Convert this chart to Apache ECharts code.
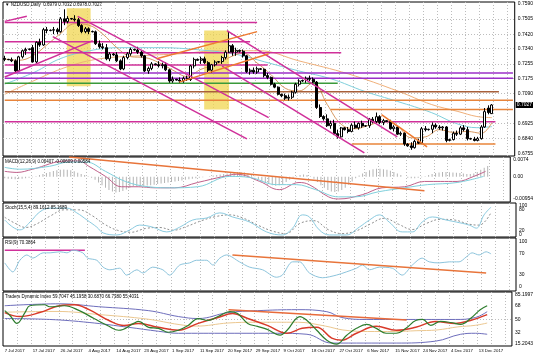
<!DOCTYPE html>
<html><head><meta charset="utf-8">
<script src="https://cdn.jsdelivr.net/npm/echarts@6/dist/echarts.min.js"></script>
<style>html,body{margin:0;padding:0;background:#fff}#c{width:536px;height:358px}</style>
</head><body><div id="c"></div>
<script>
// ---------- DATA ----------
const dateLabels = ['7 Jul 2017','17 Jul 2017','26 Jul 2017','4 Aug 2017','14 Aug 2017','23 Aug 2017','1 Sep 2017','11 Sep 2017','20 Sep 2017','29 Sep 2017','9 Oct 2017','18 Oct 2017','27 Oct 2017','6 Nov 2017','15 Nov 2017','24 Nov 2017','4 Dec 2017','13 Dec 2017'];
// [open, high, low, close]
const ohlc = [
[.7285,.7300,.7270,.7280],[.7280,.7283,.7276,.7278],[.7278,.7290,.7265,.7272],[.7272,.7280,.7205,.7216],[.7216,.7300,.7210,.7294],
[.7294,.7335,.7285,.7328],[.7328,.7345,.7305,.7335],[.7335,.7340,.7330,.7338],[.7345,.7360,.7262,.7266],[.7266,.7380,.7260,.7375],
[.7375,.7395,.7350,.7360],[.7360,.7455,.7355,.7445],[.7445,.7460,.7425,.7440],[.7440,.7446,.7436,.7442],[.7442,.7460,.7420,.7445],
[.7445,.7455,.7420,.7434],[.7434,.7515,.7428,.7505],[.7505,.7558,.7470,.7490],[.7490,.7520,.7480,.7507],[.7507,.7510,.7500,.7504],
[.7504,.7525,.7490,.7500],[.7500,.7510,.7460,.7468],[.7468,.7475,.7425,.7434],[.7434,.7460,.7425,.7450],[.7450,.7458,.7420,.7435],
[.7435,.7440,.7430,.7433],[.7433,.7440,.7360,.7367],[.7367,.7385,.7340,.7350],[.7350,.7370,.7335,.7345],[.7345,.7365,.7275,.7283],
[.7283,.7320,.7270,.7310],[.7310,.7315,.7300,.7305],[.7305,.7320,.7265,.7272],[.7272,.7280,.7220,.7227],[.7227,.7300,.7220,.7290],
[.7290,.7320,.7280,.7311],[.7311,.7345,.7300,.7335],[.7335,.7340,.7328,.7332],[.7332,.7350,.7310,.7320],[.7320,.7330,.7290,.7300],
[.7300,.7305,.7210,.7216],[.7216,.7240,.7200,.7230],[.7230,.7265,.7220,.7255],[.7255,.7258,.7248,.7250],[.7250,.7270,.7235,.7245],
[.7245,.7262,.7230,.7250],[.7250,.7265,.7215,.7222],[.7222,.7228,.7150,.7160],[.7160,.7185,.7150,.7170],[.7170,.7172,.7162,.7165],
[.7165,.7180,.7150,.7160],[.7160,.7185,.7150,.7175],[.7175,.7190,.7160,.7168],[.7168,.7250,.7160,.7244],[.7244,.7290,.7230,.7280],
[.7280,.7285,.7272,.7275],[.7275,.7295,.7255,.7283],[.7283,.7295,.7255,.7262],[.7262,.7270,.7210,.7220],[.7220,.7255,.7205,.7250],
[.7250,.7275,.7240,.7265],[.7265,.7270,.7260,.7268],[.7268,.7300,.7255,.7290],[.7290,.7330,.7280,.7320],[.7320,.7435,.7315,.7356],
[.7356,.7365,.7300,.7320],[.7320,.7345,.7300,.7330],[.7330,.7335,.7318,.7325],[.7325,.7335,.7290,.7300],[.7300,.7305,.7205,.7212],
[.7212,.7230,.7195,.7220],[.7220,.7235,.7200,.7210],[.7210,.7240,.7200,.7228],[.7228,.7232,.7222,.7225],[.7225,.7230,.7180,.7190],
[.7190,.7205,.7170,.7180],[.7180,.7185,.7135,.7142],[.7142,.7150,.7120,.7126],[.7126,.7130,.7080,.7086],[.7086,.7090,.7070,.7078],
[.7078,.7090,.7055,.7065],[.7065,.7085,.7052,.7070],[.7070,.7105,.7060,.7098],[.7098,.7150,.7090,.7142],[.7142,.7170,.7130,.7160],
[.7160,.7168,.7155,.7163],[.7163,.7185,.7150,.7175],[.7175,.7190,.7160,.7170],[.7170,.7180,.7140,.7154],[.7154,.7160,.7005,.7013],
[.7013,.7030,.6955,.6963],[.6963,.6970,.6940,.6950],[.6950,.6975,.6905,.6912],[.6912,.6940,.6895,.6925],[.6925,.6945,.6860,.6868],
[.6868,.6890,.6840,.6850],[.6850,.6905,.6845,.6900],[.6900,.6905,.6885,.6890],[.6890,.6905,.6870,.6880],[.6880,.6925,.6875,.6915],
[.6915,.6935,.6895,.6900],[.6900,.6930,.6890,.6925],[.6925,.6940,.6900,.6910],[.6910,.6915,.6905,.6912],[.6912,.6955,.6900,.6948],
[.6948,.6960,.6925,.6935],[.6935,.6985,.6925,.6962],[.6962,.6970,.6920,.6930],[.6930,.6950,.6915,.6940],[.6940,.6942,.6932,.6935],
[.6935,.6945,.6890,.6895],[.6895,.6915,.6880,.6905],[.6905,.6910,.6860,.6865],[.6865,.6880,.6855,.6870],[.6870,.6875,.6800,.6810],
[.6810,.6815,.6795,.6800],[.6800,.6820,.6778,.6790],[.6790,.6835,.6785,.6825],[.6825,.6840,.6810,.6815],[.6815,.6905,.6810,.6895],
[.6895,.6910,.6880,.6890],[.6890,.6895,.6885,.6892],[.6892,.6930,.6870,.6915],[.6915,.6925,.6895,.6905],[.6905,.6915,.6890,.6900],
[.6900,.6910,.6885,.6905],[.6905,.6910,.6820,.6830],[.6830,.6840,.6825,.6835],[.6835,.6880,.6830,.6870],[.6870,.6885,.6855,.6865],
[.6865,.6910,.6860,.6900],[.6900,.6915,.6880,.6890],[.6890,.6905,.6830,.6840],[.6840,.6845,.6835,.6838],[.6838,.6850,.6825,.6830],
[.6830,.6850,.6825,.6840],[.6840,.6915,.6835,.6905],[.6905,.7010,.6900,.6990],[.7010,.7025,.6975,.6985],[.6979,.7032,.6978,.7027]
];
const lastPrice = 0.7027;
const priceTicks = [0.7590,0.7505,0.7420,0.7340,0.7255,0.7175,0.7090,0.6925,0.6840,0.6755];

// moving averages on the price chart: [bar index, price]
const maFast = [[0,.7282],[4,.7275],[8,.7300],[12,.7360],[16,.7425],[20,.7478],[24,.7470],[28,.7420],[32,.7345],[36,.7295],[40,.7290],[44,.7262],[48,.7220],[52,.7185],[56,.7225],[60,.7250],[64,.7290],[68,.7315],[72,.7260],[76,.7195],[80,.7120],[84,.7105],[88,.7150],[92,.7030],[96,.6920],[100,.6895],[104,.6915],[108,.6935],[112,.6910],[116,.6845],[120,.6850],[124,.6890],[128,.6875],[132,.6880],[136,.6870],[139,.6930]];
const maCyan = [[0,.7143],[8.6,.7210],[15.7,.7283],[24.2,.7328],[32.7,.7345],[44,.7345],[55.5,.7333],[66.8,.7305],[74.2,.7266],[83.9,.7216],[93.3,.7171],[102.6,.7103],[112,.7047],[121.7,.6985],[129,.6923],[134.7,.6901],[139,.6907]];
const maTan = [[0,.7086],[8,.7159],[17.7,.7238],[27,.7283],[38.4,.7300],[49.8,.7311],[61.2,.7328],[72.5,.7328],[83.9,.7272],[98.1,.7199],[112.3,.7103],[121.7,.7030],[129.3,.6991],[134.7,.6963],[139,.6957]];

// horizontal levels: [price, from bar, to bar, colour]
const levels = [
 [0.7485,0,72,'#d0309a'],[0.7378,0,70,'#d0309a'],[0.7317,0,96,'#d0309a'],[0.7249,0,75,'#d0309a'],
 [0.7204,0,145,'#9b30c8'],[0.7176,0,145,'#9b30c8'],[0.7148,0,95,'#3a9a3a'],[0.7100,0,141,'#a8603a'],
 [0.7053,0,145,'#e8843a'],[0.7002,93,145,'#e8843a'],[0.6934,0,140,'#d0309a'],[0.6811,99,140,'#e8843a']
];
// trend lines: [bar1, price1, bar2, price2, colour]
const trends = [
 [0,.7491,6.3,.7519,'#d0309a'],[0,.7182,25.1,.7384,'#d0309a'],
 [20.8,.7519,75.3,.6957,'#d0309a'],[13.7,.7406,69.1,.6839,'#d0309a'],
 [63.4,.7440,112,.6850,'#d0309a'],[62,.7243,102.6,.6761,'#d0309a'],
 [43.3,.7283,72,.7434,'#ee7a30'],[49.8,.7154,75.3,.7311,'#ee7a30'],[107.5,.6974,120.5,.6794,'#ee7a30']
];
// highlighted zones: [bar1, price1, bar2, price2]
const zones = [[17.7,.7564,24.5,.7131],[56.9,.7440,64,.7002]];

// MACD
const macdHist = [-6,-8,-9,-10,-9,-8,-6,-4,-2,
 2,6,10,14,18,21,24,26,27,26,24,
 20,15,10,6,2,
 -4,-12,-22,-32,-42,-50,-56,-60,-58,-54,-48,-42,
 -38,-36,-35,-34,-33,-32,-30,-28,-26,-24,-22,-20,-18,-16,-14,-12,-10,-8,-6,-4,
 -2,0,2,4,6,8,10,12,
 14,16,18,18,16,12,6,
 -2,-10,-18,-24,-28,-32,-34,-32,-28,
 -20,-12,-4,2,6,8,6,2,
 -8,-20,-32,-42,-50,-56,-58,-56,-50,-42,
 -30,-18,-6,4,12,18,24,28,30,30,28,26,22,18,
 12,6,0,-4,-6,-6,-4,-2,
 2,6,10,14,16,18,18,17,16,15,14,
 12,10,10,12,
 18,26,34,40]; // x 0.0001
const macdMain = [[0,.0020],[3.5,.0016],[8,.0028],[17.7,.0059],[21.4,.0059],[24.2,.0039],[29,.0001],[33.6,-.0038],[38.4,-.0038],[43.3,-.0042],[48.9,-.0042],[55.5,-.0022],[63.1,.0001],[66.8,.0009],[73.4,-.0018],[79,-.0049],[84.7,-.0022],[87.6,-.0030],[93.2,-.0076],[96.1,-.0084],[102.9,-.0068],[108.6,-.0042],[115.1,-.0038],[120.8,-.0018],[130.2,-.0018],[135,.0001],[138.4,.0020]];
const macdSignal = [[0,.0035],[4.3,.0028],[12.9,.0039],[18.5,.0055],[23.4,.0055],[29,.0020],[34.7,-.0018],[41.3,-.0038],[47.8,-.0042],[55.5,-.0038],[64.8,.0001],[70.5,-.0003],[78.2,-.0030],[83.9,-.0030],[89.5,-.0049],[96.1,-.0076],[100.9,-.0076],[107.5,-.0057],[115.1,-.0042],[121.7,-.0030],[130.2,-.0022],[137.8,.0001]];
const macdTrend = [[18.5,.0074],[120.8,-.0053]];
const macdLevels = [0];
const macdLabelAt = [0.00644,0,-0.00839];
const macdLabelText = ['0.0074','0.00','-0.00954'];

// Stochastic
const stochMain = [[0,50],[2.3,29],[4.3,21],[7.2,44],[10,74],[12.9,85],[17.7,85],[20.5,71],[23.4,50],[26.2,29],[28,12],[31.9,6],[35.6,21],[38.4,35],[42.1,29],[46.1,15],[49.8,29],[53.5,50],[57.5,56],[61.2,71],[64.8,59],[69.7,44],[74.5,15],[79,6],[81.9,26],[84.7,65],[86.7,59],[89.5,21],[92.4,6],[97.2,6],[100.9,29],[103.8,50],[106.6,65],[109.4,44],[113.1,15],[116,15],[118.8,44],[121.7,59],[125.6,50],[128.5,44],[132.2,35],[134.2,26],[136.4,65],[138.4,88]];
const stochSignal = [[0,58],[3,40],[6,28],[9,38],[13,62],[17,80],[21,80],[25,62],[28,40],[32,20],[36,14],[40,25],[44,28],[48,20],[52,32],[56,48],[60,60],[64,65],[68,55],[72,35],[76,18],[80,10],[84,40],[88,48],[92,22],[96,10],[100,18],[104,38],[108,55],[112,38],[116,22],[120,40],[124,52],[128,50],[132,38],[135,35],[138.4,72]];
const stochLevels = [80,20];
const stochLabelText = ['80','20'];
const stochEdgeAt = [92,6];
const stochEdgeText = ['100','0'];

// RSI
const rsi = [[0,53],[2.3,36],[4.3,58],[6.3,68],[8,62],[10.9,72],[12.9,72],[15.7,74],[17.7,72],[19.4,77],[22.2,72],[23.6,62],[26.2,58],[28,45],[29.9,40],[32.7,43],[34.7,30],[37.6,40],[39.3,34],[42.1,45],[45,40],[46.9,30],[49.8,49],[52.6,53],[54.6,58],[57.5,58],[59.2,49],[61.2,62],[63.1,68],[66.8,55],[69.7,45],[73.4,40],[77.3,26],[79,30],[81.9,55],[83.9,55],[86.7,34],[90.4,25],[94.4,30],[97.2,36],[100.1,43],[101.8,49],[103.8,40],[106.6,45],[110.3,43],[113.1,30],[116,49],[118.8,62],[120.8,55],[123.6,53],[126.5,55],[129.3,55],[131.3,64],[133,72],[135,68],[137,74],[138.4,70]];
const rsiLevel = [[0,77],[22.8,77]];
const rsiTrend = [[64.8,68],[137,34]];
const rsiLevels = [70,30];
const rsiLabelAt = [94,70,30,8];
const rsiLabelText = ['100','70','30','0'];

// Traders Dynamic Index
const tdiGreen = [[0,61],[1.5,54.7],[3.5,44.5],[5.8,58.5],[7.2,67.4],[11.4,68.7],[12.9,66.1],[17.1,67.4],[21.4,61],[25.6,50.8],[29.9,40.7],[32.7,35.6],[37,44.5],[38.4,47],[41.3,39.4],[44.1,38.1],[46.9,33],[49.8,35.6],[52.6,41.9],[55.5,50.8],[58.3,48.3],[61.2,53.4],[64.6,59.7],[66.8,57.2],[69.7,44.5],[72.5,40.7],[75.3,36.8],[79,29.2],[81,35.6],[84.7,53.4],[86.7,48.3],[89.5,35.6],[92.4,22.8],[95.2,17.7],[98.1,29.2],[100.9,38.1],[103.8,43.2],[106.6,38.1],[109.4,31.7],[112.3,31.7],[115.1,38.1],[117.9,48.3],[119.9,49.6],[122.2,41.9],[125,47],[127.9,45.7],[130.8,43.2],[133.6,50.8],[136.4,62.3],[138.4,67.4]];
const tdiRed = [[0,58.5],[4.3,53.4],[10,58.5],[15.7,67.4],[20,68.7],[24.2,62.3],[29.9,48.3],[34.2,41.9],[38.4,44.5],[44.1,39.4],[49.8,35.6],[55.5,44.5],[61.2,52.1],[65.4,57.2],[69.7,50.8],[75.3,41.9],[81,31.7],[85.3,38.1],[89.5,39.4],[93.8,25.4],[96.7,22.8],[100.9,31.7],[106.6,40.7],[112.3,35.6],[117.9,39.4],[123.6,47],[129.3,44.5],[133.6,48.3],[138.4,55.9]];
const tdiUpper = [[0,67.4],[15.7,69.9],[27,66.1],[41.3,61],[49.8,53.4],[55.5,50.8],[64,58.5],[72.5,61],[83.9,62.3],[92.4,59.7],[96.7,52.1],[103.8,49.6],[117.9,49.6],[129.3,49.6],[135,52.1],[138.4,59.7]];
const tdiLower = [[0,50.8],[12.9,49.6],[24.2,45.7],[35.6,39.4],[44.1,34.3],[49.8,31.7],[64,31.7],[78.2,31.7],[86.7,30.4],[93.8,19],[112.3,19],[123.6,21.5],[130.8,30.4],[135,31.7],[138.4,30.4]];
const tdiMiddle = [[0,59],[15,60],[27,56],[41,50],[50,43],[55,41],[64,45],[72,46],[84,46],[92,41],[97,36],[104,34],[112,34],[118,35],[124,36],[130,40],[135,42],[138.4,45]];
const tdiTrend = [[64.2,62.3],[115.3,49]];
const tdiLevels = [68,50,32];
const tdiLabelAt = [82.2,68,50,32,18.8];
const tdiLabelText = ['85.1997','68','50','32','15.2043'];

const titles = [
 '\u25BC NZDUSD,Daily  0.6979 0.7032 0.6978 0.7027',
 'MACD(12,26,9) 0.00407 -0.00609 0.00584',
 'Stoch(15,5,4) 89.1612 85.1689',
 'RSI(9) 70.3864',
 'Traders Dynamic Index 59.7047 45.1958 30.6870 66.7380 55.4031'
];

// ---------- CHART ----------
const N = 146;
const cats = Array.from({length:N},(_,i)=>i);
const FONT = 'Liberation Sans';
const panels = [
 {top:2,height:154},{top:157,height:45},{top:203,height:34},{top:238,height:53},{top:292,height:54}
];
const gridLine = {color:'#bdbdbd',type:[1,2],width:1};

const xAxes = [];
panels.forEach((p,g)=>{
 xAxes.push({type:'category',gridIndex:g,data:cats,boundaryGap:true,
  axisLine:{show:false},axisTick:{show:false},
  axisLabel: g===4 ? {show:true,interval:7,align:'left',fontSize:4.3,fontFamily:FONT,color:'#000',margin:3,
      formatter:(v,i)=> dateLabels[i/8] || ''} : {show:false},
  splitLine:{show:true,interval:3,showMinLine:false,showMaxLine:false,lineStyle:gridLine}});
});
panels.forEach((p,g)=>{
 xAxes.push({type:'value',gridIndex:g,min:-0.5,max:N-0.5,show:false,splitLine:{show:false}});
});

function yAx(g,min,max,lineVals,labelVals,labelText,noLines,extraLabel){
 return {type:'value',gridIndex:g,position:'right',min,max,scale:true,
  axisLine:{show:false},
  axisTick:{show:false,customValues:lineVals},
  axisLabel:Object.assign({show:true,customValues:labelVals,hideOverlap:false,
    formatter:v=>{const i=labelVals.indexOf(v);return i>=0?labelText[i]:'';},
    fontSize:5,fontFamily:FONT,color:'#000',margin:3},extraLabel||{}),
  splitLine:{show:!noLines,showMinLine:false,showMaxLine:false,lineStyle:gridLine}};
}
const yAxes = [
 yAx(0,0.67438,0.75985,priceTicks,priceTicks,priceTicks.map(v=>v.toFixed(4))),
 yAx(1,-0.00954,0.0074,macdLevels,macdLabelAt,macdLabelText),
 yAx(2,0,100,stochLevels,stochLevels,stochLabelText),
 yAx(3,0,100,rsiLevels,rsiLabelAt,rsiLabelText),
 yAx(4,15.2043,85.1997,tdiLevels,tdiLabelAt,tdiLabelText),
 yAx(2,0,100,stochEdgeAt,stochEdgeAt,stochEdgeText,true),
 yAx(0,0.67438,0.75985,[lastPrice],[lastPrice],[lastPrice.toFixed(4)],true,
   {backgroundColor:'#000',color:'#fff',padding:[1,1,0,1],margin:1})
];

function line(g,data,color,width,opts){
 return Object.assign({type:'line',xAxisIndex:5+g,yAxisIndex:g,data,symbol:'none',silent:true,
  lineStyle:{color,width},z:4,animation:false}, opts||{});
}

const series = [];
series.push({type:'line',xAxisIndex:5,yAxisIndex:0,data:[],z:1,silent:true,
 markArea:{silent:true,itemStyle:{color:'rgba(240,214,80,0.75)'},
  data:zones.map(z=>[{coord:[z[0],z[1]]},{coord:[z[2],z[3]]}])}});
series.push(line(0,maTan,'#f0b07a',1,{z:2,smooth:0.4}));
series.push(line(0,maCyan,'#7fd0dc',1,{z:2,smooth:0.4}));
series.push(line(0,maFast,'#d89a62',1,{z:2,smooth:0.4}));
levels.forEach(l=>series.push(line(0,[[l[1],l[0]],[l[2],l[0]]],l[3],1.5,{z:3})));
series.push({type:'candlestick',xAxisIndex:0,yAxisIndex:0,barWidth:2.5,z:5,
 data:ohlc.map(d=>[d[0],d[3],d[2],d[1]]),
 itemStyle:{color:'#ffffff',color0:'#000000',borderColor:'#000000',borderColor0:'#000000',borderWidth:1}});
trends.forEach(t=>series.push(line(0,[[t[0],t[1]],[t[2],t[3]]],t[4],1.5,{z:6})));

series.push({type:'bar',xAxisIndex:1,yAxisIndex:1,data:macdHist.map(v=>v/10000),barWidth:1,
 itemStyle:{color:'#b4b4b4'},silent:true,z:2});
series.push(line(1,macdMain,'#c0608a',1,{smooth:0.4}));
series.push(line(1,macdSignal,'#7fd0dc',1,{smooth:0.4}));
series.push(line(1,macdTrend,'#e8743a',1.5,{z:6}));

series.push(line(2,stochSignal,'#909090',1,{smooth:0.4,lineStyle:{color:'#909090',width:1,type:[2,2]}}));
series.push(line(2,stochMain,'#8ccbe0',1,{smooth:0.4}));

series.push(line(3,rsiLevel,'#d0309a',1.5));
series.push(line(3,rsi,'#8cc4dc',1,{smooth:0.3}));
series.push(line(3,rsiTrend,'#e8743a',1.5,{z:6}));

series.push(line(4,tdiUpper,'#6e6ebc',1,{smooth:0.4}));
series.push(line(4,tdiLower,'#6e6ebc',1,{smooth:0.4}));
series.push(line(4,tdiMiddle,'#ecc890',1,{smooth:0.4}));
series.push(line(4,tdiTrend,'#e86a3a',1.5,{z:6}));
series.push(line(4,tdiRed,'#d83a2a',1.5,{smooth:0.4,z:5}));
series.push(line(4,tdiGreen,'#2d7d2d',1.2,{smooth:0.4,z:5}));

const titleTops = [2,159,205,240,294];
const graphic = titles.map((t,i)=>({type:'text',left:5,top:titleTops[i],silent:true,z:100,
 style:{text:t,font:'4.5px "'+FONT+'"',fill:'#000'}}));

const chart = echarts.init(document.getElementById('c'),null,{renderer:'canvas'});
chart.setOption({
 animation:false,backgroundColor:'#fff',
 grid:panels.map(p=>({left:3,right:20,top:p.top,height:p.height,show:true,borderColor:'#000',borderWidth:1,backgroundColor:'transparent'})),
 xAxis:xAxes,yAxis:yAxes,series,graphic
});
</script></body></html>
